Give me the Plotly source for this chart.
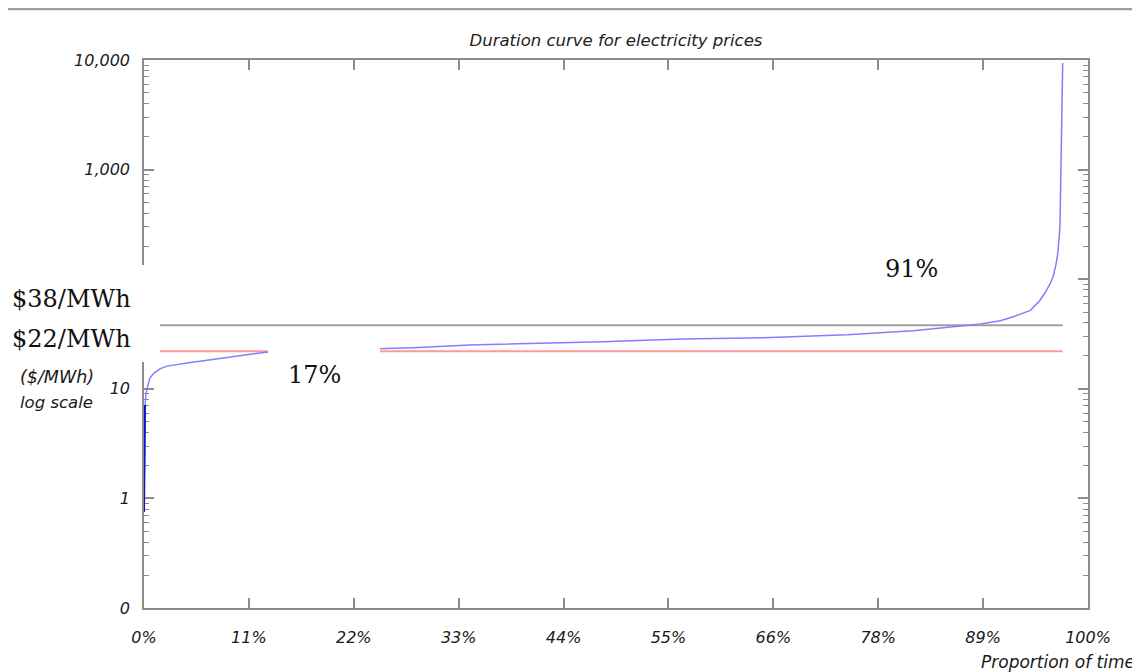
import plotly.graph_objects as go

# ---------------- data ----------------
# Proportion of time (%) and price ($/MWh) along the sorted duration curve
curve_left_x = [0.0, 0.03, 0.06, 0.11, 0.21, 0.32, 0.64, 1.06, 1.69, 2.44, 4.56, 6.99, 9.43, 13.14,
                17.0, 21.0]
curve_left_y = [0.75, 1.8, 4.2, 7.1, 8.8, 10.0, 12.6, 13.9, 15.2, 16.1, 17.2, 18.3, 19.5, 21.7,
                22.2, 22.7]
curve_right_x = [25.0, 28.5, 34.5, 43.3, 48.6, 53.9, 57.1, 65.6, 74.5, 81.5, 86.8, 88.6, 90.7,
                 92.1, 93.9, 94.9, 95.4, 95.97, 96.3, 96.6, 96.8, 97.03, 97.32]
curve_right_y = [23.1, 23.7, 25.1, 26.0, 26.9, 27.9, 28.5, 29.3, 31.2, 33.9, 37.4, 39.0, 41.8,
                 45.5, 52, 64, 74, 90, 105, 135, 172, 300, 9400]
curve_x = curve_left_x + curve_right_x
curve_y = curve_left_y + curve_right_y
near_zero_count = 4  # first points: near-vertical run at 0% (drawn darker)

ref_x = [0.0, 97.32]
avg_price = 38   # $/MWh
low_price = 22   # $/MWh

x_tickvals = [100 * i / 9 for i in range(10)]
x_ticktext = ["0%", "11%", "22%", "33%", "44%", "55%", "66%", "78%", "89%", "100%"]
y_tickvals = [0.1, 1, 10, 100, 1000, 10000]
y_ticktext = ["0", "1", "10", "", "1,000", "10,000"]
y_minor = [m * 10 ** d for d in range(-1, 4) for m in range(2, 10)]

# ---------------- figure ----------------
# (the page body has an 8px margin, so the figure is 8px smaller and its margins shifted)
FIG_W, FIG_H = 1132, 664
M_L, M_R, M_T, M_B = 136, 52, 52, 64

LABEL_FONT = dict(family="DejaVu Sans", size=16, color="#1a1a1a", style="italic")
SIDE_FONT = dict(family="DejaVu Sans", size=16.5, color="#1a1a1a", style="italic")
SERIF = dict(family="DejaVu Serif", size=24, color="#111111")
AXIS_COL = "#8c8c8c"

fig = go.Figure()
fig.add_trace(go.Scatter(x=ref_x, y=[avg_price, avg_price], mode="lines",
                         line=dict(color="#a0a0a0", width=2), hoverinfo="skip"))
fig.add_trace(go.Scatter(x=ref_x, y=[low_price, low_price], mode="lines",
                         line=dict(color="#ff9a9a", width=2), hoverinfo="skip"))
fig.add_trace(go.Scatter(x=curve_x, y=curve_y, mode="lines",
                         line=dict(color="#8080ff", width=1.5)))
fig.add_trace(go.Scatter(x=curve_x[:near_zero_count], y=curve_y[:near_zero_count], mode="lines",
                         line=dict(color="#1010c8", width=2)))

# white covers (as in the original artwork)
W = "white"
fig.add_shape(type="rect", xref="paper", yref="paper", x0=-0.16, x1=0.017, y0=0.449, y1=0.626,
              fillcolor=W, line=dict(width=0), layer="above")
fig.add_shape(type="rect", xref="paper", yref="paper", x0=0.1314, x1=0.25, y0=0.38, y1=0.498,
              fillcolor=W, line=dict(width=0), layer="above")
# top rule
fig.add_shape(type="line", xref="paper", yref="paper", x0=-0.144, x1=1.06, y0=1.0931, y1=1.0931,
              line=dict(color="#a59d8f", width=2.5), layer="above")

ann = [
    dict(text="$38/MWh", x=-0.1419, y=0.5639, xanchor="left", yanchor="middle", font=SERIF),
    dict(text="$22/MWh", x=-0.1419, y=0.4909, xanchor="left", yanchor="middle", font=SERIF),
    dict(text="17%", x=0.1801, y=0.4252, xanchor="center", yanchor="middle", font=SERIF),
    dict(text="91%", x=0.8125, y=0.6186, xanchor="center", yanchor="middle", font=SERIF),
    dict(text="($/MWh)", x=-0.1335, y=0.4215, xanchor="left", yanchor="middle",
         font=dict(SIDE_FONT, size=17.5)),
    dict(text="log scale", x=-0.1335, y=0.3741, xanchor="left", yanchor="middle", font=SIDE_FONT),
    dict(text="Proportion of time", x=1.0519, y=-0.0985, xanchor="right", yanchor="middle",
         font=dict(SIDE_FONT, size=17)),
]
for a in ann:
    fig.add_annotation(xref="paper", yref="paper", showarrow=False, **a)

fig.update_layout(
    width=FIG_W, height=FIG_H,
    margin=dict(l=M_L, r=M_R, t=M_T, b=M_B),
    paper_bgcolor="white", plot_bgcolor="white",
    showlegend=False,
    title=dict(text="Duration curve for electricity prices", x=608 / FIG_W, xref="container",
               y=1 - 32 / FIG_H, yref="container", xanchor="center", yanchor="middle",
               font=dict(family="DejaVu Sans", size=16.5, color="#222222", style="italic")),
)
fig.update_xaxes(range=[0, 100], tickvals=x_tickvals, ticktext=x_ticktext,
                 showgrid=False, zeroline=False, showline=True, linecolor=AXIS_COL, linewidth=1.5,
                 mirror="ticks", ticks="inside", ticklen=10, tickwidth=1.5, tickcolor=AXIS_COL,
                 tickfont=LABEL_FONT, ticklabelstandoff=14)
fig.update_yaxes(type="log", range=[-1, 4], tickvals=y_tickvals, ticktext=y_ticktext,
                 showgrid=False, zeroline=False, showline=True, linecolor=AXIS_COL, linewidth=1.5,
                 mirror="ticks", ticks="inside", ticklen=10, tickwidth=1.5, tickcolor=AXIS_COL,
                 tickfont=LABEL_FONT, ticklabelstandoff=9, layer="below traces",
                 minor=dict(tickvals=y_minor, ticks="inside", ticklen=5, tickwidth=1.2,
                            tickcolor=AXIS_COL, showgrid=False))

fig.write_html("out.html")
